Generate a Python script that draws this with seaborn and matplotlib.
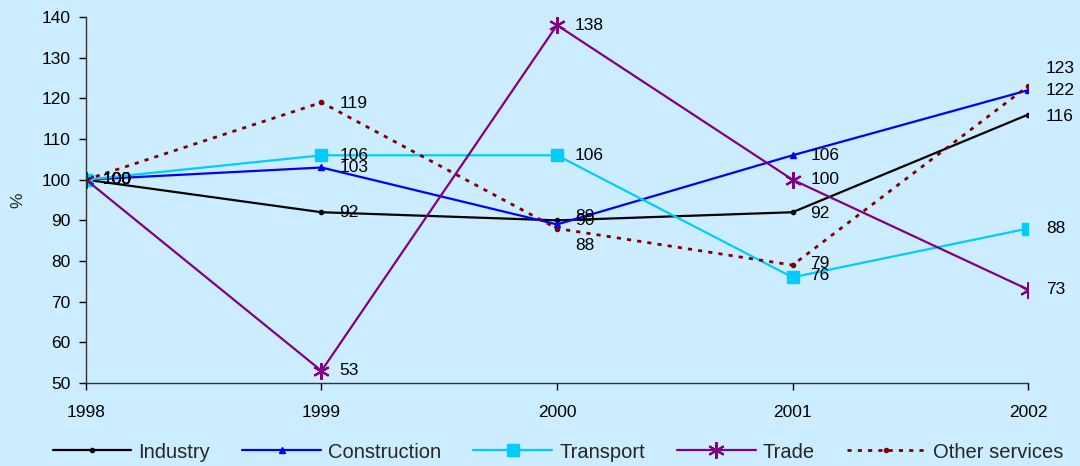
import matplotlib
matplotlib.use("Agg")
import matplotlib.pyplot as plt
import seaborn as sns
import pandas as pd

years = [1998, 1999, 2000, 2001, 2002]
industry = [100, 92, 90, 92, 116]
construction = [100, 103, 89, 106, 122]
transport = [100, 106, 106, 76, 88]
trade = [100, 53, 138, 100, 73]
other_services = [100, 119, 88, 79, 123]

series_names = ["Industry", "Construction", "Transport", "Trade", "Other services"]
series_values = [industry, construction, transport, trade, other_services]

sns.set_theme(style="white")
plt.rcParams["font.family"] = ["Liberation Sans", "DejaVu Sans"]

bg = "#CCECFF"
fig = plt.figure(figsize=(10.8, 4.66), dpi=100, facecolor=bg)
ax = fig.add_axes([0.0796, 0.178, 0.8723, 0.7855])
ax.set_facecolor(bg)

styles = {
    "Industry": dict(color="black", marker="o", markersize=3, linestyle="-", lw=1.6),
    "Construction": dict(color="#0000FF", marker="^", markersize=4.5, linestyle="-", lw=1.6),
    "Transport": dict(color="#00CCFF", marker="s", markersize=8, linestyle="-", lw=1.6),
    "Trade": dict(color="#800080", marker=(6, 2, 0), markersize=12, linestyle="-", lw=1.6, mew=1.5),
    "Other services": dict(color="#800000", marker="o", markersize=3, linestyle=(0, (1.5, 2.2)), lw=2.0),
}

df = pd.DataFrame({"year": years * len(series_names),
                   "series": [n for n in series_names for _ in years],
                   "value": [v for vals in series_values for v in vals]})

for name in series_names:
    st = styles[name]
    sub = df[df["series"] == name]
    sns.lineplot(data=sub, x="year", y="value", ax=ax, color=st["color"],
                 marker=st["marker"], markersize=st["markersize"],
                 linestyle=st["linestyle"], linewidth=st["lw"],
                 markeredgecolor=st["color"], markerfacecolor=st["color"],
                 markeredgewidth=st.get("mew", 1), label=name)

# data labels
offsets = {
    "Industry": [(12, 0), (13, 0), (13, 0), (13, -1), (13, -1)],
    "Construction": [(12, 0), (13, 0), (13, 6), (13, 0), (13, 0)],
    "Transport": [(12, 0), (13, 0), (13, 0), (13, 1), (13, 0)],
    "Trade": [(12, 0), (13, 0), (13, 0), (13, 0), (13, 0)],
    "Other services": [(12, 0), (13, -1), (13, -12), (13, 1), (13, 13)],
}
for name, vals in zip(series_names, series_values):
    for i, (x, y) in enumerate(zip(years, vals)):
        dx, dy = offsets[name][i]
        ax.annotate(f"{y}", (x, y), xytext=(dx, dy), textcoords="offset points",
                    ha="left", va="center", fontsize=12.5, color="black",
                    annotation_clip=False)

ax.set_xlim(1998, 2002)
ax.set_ylim(50, 140)
ax.set_xticks(years)
ax.set_xticklabels([str(y) for y in years])
ax.set_yticks(range(50, 141, 10))
ax.tick_params(axis="both", labelsize=12.5, colors="black", direction="out",
               length=5, width=1, left=True, bottom=True)
ax.tick_params(axis="y", pad=6)
ax.tick_params(axis="x", pad=11)
for s in ["top", "right"]:
    ax.spines[s].set_visible(False)
for s in ["left", "bottom"]:
    ax.spines[s].set_color("#333333")
    ax.spines[s].set_linewidth(1)
ax.set_xlabel("")
ax.set_ylabel("%", fontsize=12.5, labelpad=12)
if ax.get_legend():
    ax.get_legend().remove()

handles, labels = ax.get_legend_handles_labels()
fig.legend(handles, labels, loc="center left", bbox_to_anchor=(0.049, 0.03), ncol=5,
           frameon=False, fontsize=14.5, handlelength=3.9, columnspacing=1.6,
           handletextpad=0.35, borderaxespad=0, borderpad=0)

fig.savefig("out.png", dpi=100, facecolor=bg)
